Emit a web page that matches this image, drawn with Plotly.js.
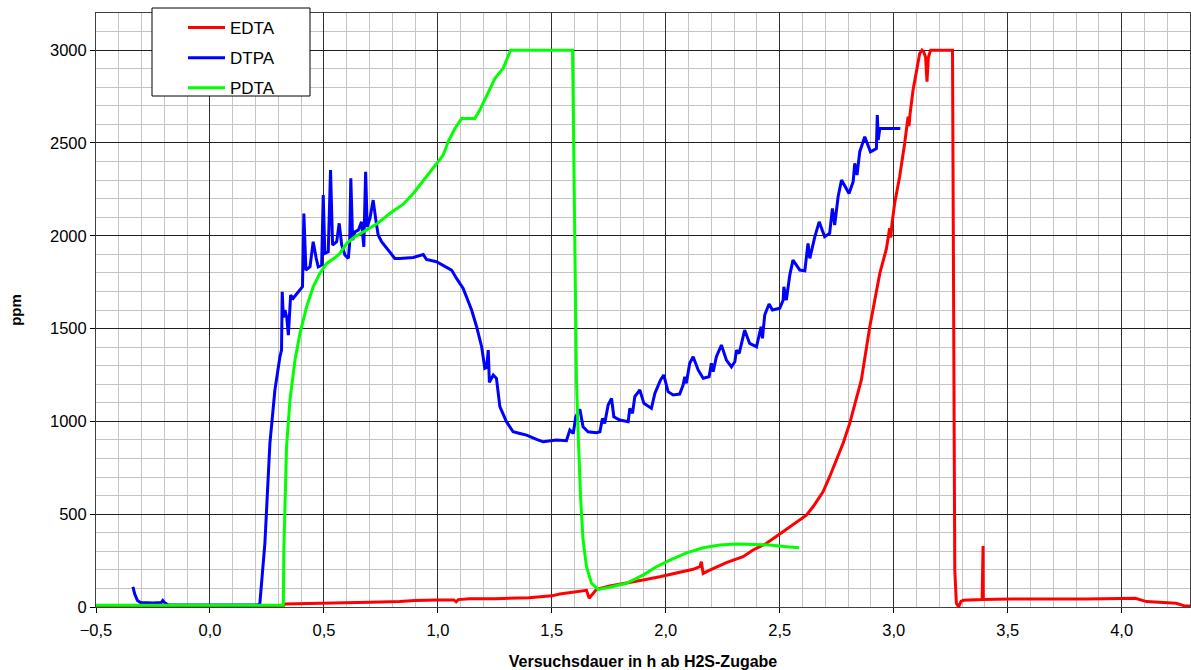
<!DOCTYPE html>
<html>
<head>
<meta charset="utf-8">
<script src="https://cdn.plot.ly/plotly-3.0.1.min.js"></script>
<style>
  html, body { margin: 0; padding: 0; background: #ffffff; }
  #chart { width: 1191px; height: 670px; }
</style>
</head>
<body>
<div id="chart"></div>
<script>
// Messverlauf der Komplexbildner nach H2S-Zugabe (Zeit in h, Konzentration in ppm)

var seriesNames = ['EDTA', 'DTPA', 'PDTA'];

var edtaX = [-0.5, 0.32, 0.329, 0.45, 0.541, 0.7, 0.833, 0.9, 1.0, 1.07, 1.08, 1.09, 1.14, 1.25, 1.4, 1.5,
  1.535, 1.608, 1.652, 1.664, 1.696, 1.754, 1.827, 1.9, 1.974, 2.047, 2.12, 2.149, 2.156, 2.164, 2.193,
  2.266, 2.339, 2.383, 2.442, 2.5, 2.558, 2.617, 2.646, 2.69, 2.719, 2.748, 2.778, 2.807, 2.836, 2.858,
  2.895, 2.939, 2.968, 2.982, 2.987, 2.992, 3.004, 3.026, 3.048, 3.063, 3.067, 3.072, 3.085, 3.1, 3.114,
  3.124, 3.132, 3.14, 3.146, 3.152, 3.162, 3.258, 3.262, 3.268, 3.275, 3.285, 3.295, 3.306, 3.388, 3.389,
  3.392, 3.393, 3.517, 3.845, 4.06, 4.109, 4.174, 4.239, 4.28, 4.3];
var edtaY = [3, 3, 16, 18, 22, 25, 30, 35, 38, 38, 28, 40, 45, 45, 50, 60,
  70, 83, 90, 47, 95, 113, 131, 145, 163, 185, 203, 217, 244, 181, 199,
  239, 271, 307, 343, 393, 442, 495, 540, 621, 702, 792, 882, 989, 1115, 1223,
  1510, 1797, 1930, 2040, 1990, 2060, 2174, 2318, 2497, 2641, 2590, 2660, 2785, 2892, 2982,
  3000, 2990, 2960, 2830, 2960, 3000, 3000, 1900, 200, 20, 0, 30, 36, 40, 329,
  329, 40, 43, 43, 47, 29, 23, 20, 5, 5];

var dtpaX = [-0.338, -0.33, -0.318, -0.305, -0.25, -0.213, -0.207, -0.2, -0.185, 0.1, 0.21, 0.219, 0.241,
  0.263, 0.285, 0.307, 0.314, 0.317, 0.322, 0.329, 0.337, 0.344, 0.354, 0.365, 0.387, 0.406, 0.412, 0.418,
  0.421, 0.439, 0.453, 0.466, 0.475, 0.49, 0.497, 0.504, 0.519, 0.529, 0.535, 0.538, 0.556, 0.567, 0.578,
  0.592, 0.607, 0.613, 0.618, 0.623, 0.626, 0.636, 0.651, 0.665, 0.675, 0.683, 0.69, 0.702, 0.716, 0.728,
  0.738, 0.753, 0.775, 0.811, 0.833, 0.892, 0.936, 0.95, 0.994, 1.023, 1.06, 1.082, 1.111, 1.148, 1.17,
  1.192, 1.206, 1.214, 1.221, 1.226, 1.243, 1.257, 1.272, 1.301, 1.33, 1.36, 1.389, 1.433, 1.462, 1.52,
  1.564, 1.579, 1.594, 1.605, 1.623, 1.637, 1.659, 1.696, 1.711, 1.722, 1.732, 1.747, 1.762, 1.772, 1.798,
  1.835, 1.842, 1.854, 1.864, 1.886, 1.904, 1.937, 1.952, 1.977, 1.991, 2.01, 2.032, 2.061, 2.076, 2.083,
  2.09, 2.105, 2.12, 2.142, 2.164, 2.19, 2.2, 2.208, 2.222, 2.244, 2.266, 2.288, 2.303, 2.31, 2.322, 2.346,
  2.368, 2.398, 2.418, 2.424, 2.434, 2.453, 2.468, 2.5, 2.515, 2.518, 2.529, 2.544, 2.558, 2.588, 2.61,
  2.624, 2.632, 2.654, 2.673, 2.697, 2.719, 2.731, 2.741, 2.756, 2.771, 2.804, 2.822, 2.829, 2.839, 2.851,
  2.873, 2.898, 2.924, 2.928, 2.932, 2.939, 3.029];
var dtpaY = [109, 70, 35, 24, 22, 24, 35, 25, 12, 10, 11, 20, 343,
  882, 1169, 1348, 1384, 1698, 1560, 1600, 1560, 1465, 1680, 1663, 1698, 1725, 2120, 1820,
  1815, 1833, 1968, 1880, 1833, 1842, 2219, 1905, 1914, 2354, 1960, 1950, 1968, 2067, 1950,
  1896, 1878, 1960, 2309, 1990, 1977, 2021, 2030, 2075, 1940, 2345, 2048, 2093, 2192, 2084,
  2004, 1968, 1932, 1878, 1878, 1883, 1899, 1872, 1860, 1842, 1815, 1770, 1716, 1600, 1510,
  1402, 1286, 1290, 1384, 1210, 1250, 1232, 1079, 998, 944, 935, 926, 903, 890, 899,
  896, 953, 935, 1025, 1065, 971, 944, 939, 944, 1016, 989, 1088, 1124, 1025, 1007,
  998, 1070, 1043, 1133, 1169, 1097, 1070, 1151, 1223, 1250, 1160, 1142, 1147, 1196, 1240,
  1205, 1313, 1348, 1277, 1232, 1240, 1313, 1267, 1348, 1411, 1330, 1294, 1321, 1384, 1366, 1492,
  1420, 1402, 1510, 1447, 1573, 1632, 1600, 1609, 1653, 1725, 1653, 1788, 1869, 1815, 1811,
  1959, 1878, 1995, 2075, 1995, 2013, 2147, 2057, 2210, 2300, 2228, 2291, 2390, 2327, 2452,
  2533, 2452, 2470, 2650, 2515, 2578, 2578];

var pdtaX = [-0.5, 0.322, 0.324, 0.329, 0.336, 0.351, 0.373, 0.395, 0.424, 0.453, 0.482, 0.512, 0.548,
  0.57, 0.6, 0.636, 0.687, 0.731, 0.789, 0.848, 0.892, 0.95, 0.994, 1.023, 1.045, 1.075, 1.104, 1.162,
  1.184, 1.213, 1.25, 1.286, 1.319, 1.591, 1.601, 1.608, 1.615, 1.626, 1.637, 1.652, 1.674, 1.703, 1.754,
  1.827, 1.9, 1.959, 2.018, 2.091, 2.164, 2.237, 2.31, 2.383, 2.456, 2.529, 2.585];
var pdtaY = [10, 10, 300, 612, 863, 1115, 1330, 1474, 1617, 1725, 1797, 1851, 1881,
  1905, 1959, 1995, 2030, 2063, 2120, 2170, 2228, 2318, 2385, 2434, 2506, 2578, 2632, 2632,
  2677, 2748, 2847, 2901, 3000, 3000, 2030, 1223, 953, 594, 361, 217, 128, 95, 106,
  128, 172, 217, 253, 292, 319, 334, 339, 338, 334, 325, 319];

var seriesColors = ['#ff0000', '#0000ff', '#00ff00'];

var xTickVals = [-0.5, 0, 0.5, 1, 1.5, 2, 2.5, 3, 3.5, 4];
var yTickVals = [0, 500, 1000, 1500, 2000, 2500, 3000];

var fontFamily = 'Arial, "Liberation Sans", sans-serif';

var allX = [edtaX, dtpaX, pdtaX];
var allY = [edtaY, dtpaY, pdtaY];

var traces = seriesNames.map(function (name, i) {
  return {
    type: 'scatter',
    mode: 'lines',
    name: name,
    x: allX[i],
    y: allY[i],
    legendgroup: name,
    line: { color: seriesColors[i], width: 3 },
    hoverinfo: 'x+y+name'
  };
});

// plot area spans px 96..1190 horizontally, 13..607 vertically
var plotL = 96, plotR = 1190, plotT = 13, plotB = 607;
function px2paperX(p) { return (p - plotL) / (plotR - plotL); }
function px2paperY(p) { return (plotB - p) / (plotB - plotT); }

var layout = {
  width: 1191,
  height: 670,
  margin: { l: plotL, r: 1191 - plotR, t: plotT, b: 670 - plotB },
  paper_bgcolor: '#ffffff',
  plot_bgcolor: '#ffffff',
  separators: ',.',
  font: { family: fontFamily, size: 16.5, color: '#000000' },
  showlegend: true,
  legend: {
    x: px2paperX(183),
    y: px2paperY(10),
    xanchor: 'left',
    yanchor: 'top',
    bgcolor: 'rgba(0,0,0,0)',
    borderwidth: 0,
    itemwidth: 37,
    tracegroupgap: 5,
    font: { family: fontFamily, size: 17, color: '#000000' }
  },
  xaxis: {
    range: [-0.5, 4.3],
    tickvals: xTickVals,
    tickformat: '.1f',
    ticks: 'outside',
    ticklen: 5,
    tickcolor: '#000000',
    ticklabelstandoff: 3,
    showline: true,
    linecolor: '#404040',
    linewidth: 1,
    mirror: true,
    showgrid: true,
    gridcolor: '#303030',
    gridwidth: 1,
    zeroline: false,
    minor: { dtick: 0.1, showgrid: true, gridcolor: '#c4c4c4', gridwidth: 1 },
    title: {
      text: 'Versuchsdauer in h ab H2S-Zugabe',
      font: { family: fontFamily, size: 16, color: '#000000', weight: 'bold' },
      standoff: 18
    }
  },
  yaxis: {
    range: [0, 3200],
    tickvals: yTickVals,
    tickformat: 'd',
    ticks: 'outside',
    ticklen: 5,
    tickcolor: '#000000',
    showline: true,
    linecolor: '#404040',
    linewidth: 1,
    mirror: true,
    showgrid: true,
    gridcolor: '#202020',
    gridwidth: 1,
    zeroline: false,
    minor: { dtick: 100, showgrid: true, gridcolor: '#c4c4c4', gridwidth: 1 },
    title: {
      text: 'ppm',
      font: { family: fontFamily, size: 15, color: '#000000', weight: 'bold' },
      standoff: 24
    }
  },
  shapes: [
    {
      type: 'rect',
      xref: 'paper', yref: 'paper',
      x0: px2paperX(152), x1: px2paperX(310),
      y0: px2paperY(96), y1: px2paperY(8),
      line: { color: '#000000', width: 1 },
      fillcolor: '#ffffff',
      layer: 'above'
    }
  ]
};

Plotly.newPlot('chart', traces, layout, { displayModeBar: false, staticPlot: true });
</script>
</body>
</html>
